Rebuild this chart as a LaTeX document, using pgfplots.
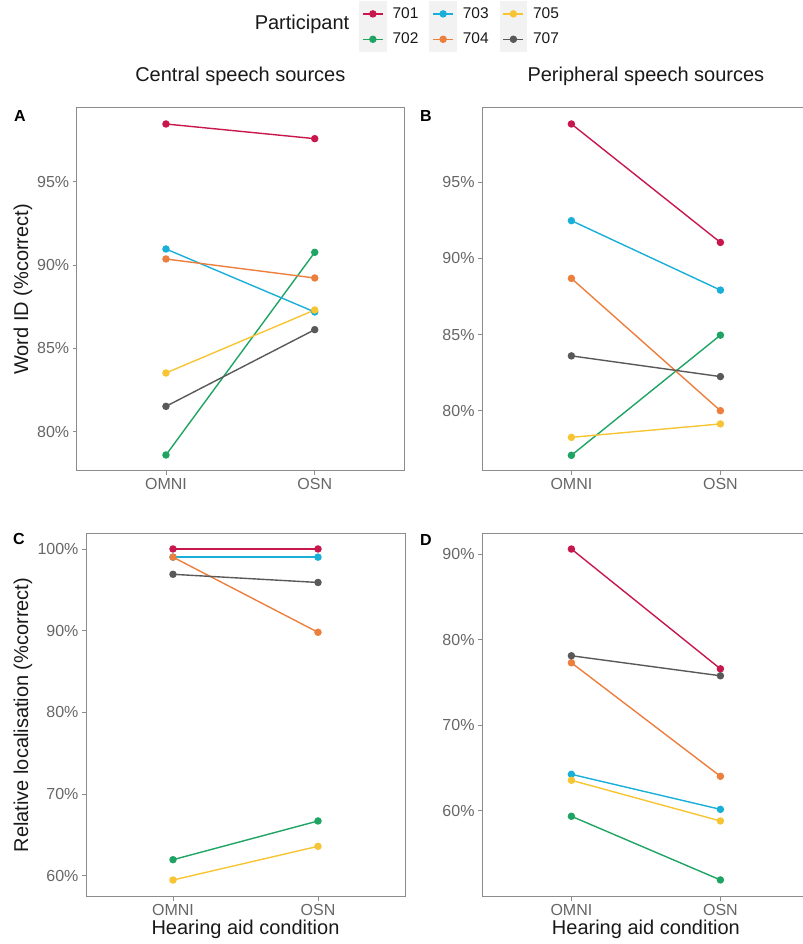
\documentclass[border=0pt]{standalone}
\usepackage{pgfplots}
\pgfplotsset{compat=1.18}
\usepackage{fontspec}
\setmainfont{Liberation Sans}
\definecolor{c701}{HTML}{C8174C}
\definecolor{c702}{HTML}{1FA463}
\definecolor{c703}{HTML}{1AAFD8}
\definecolor{c704}{HTML}{EC7F3E}
\definecolor{c705}{HTML}{F7C433}
\definecolor{c707}{HTML}{595959}
\pgfplotsset{
  panel/.style={
    scale only axis,
    axis line style={black!45, line width=1bp},
    xmin=-0.6, xmax=1.6, xtick={0,1}, xticklabels={OMNI,OSN},
    tick align=outside, major tick length=4bp,
    tick style={black!45, line width=0.8bp},
    xtick pos=bottom, ytick pos=left,
    ticklabel style={font=\fontsize{16bp}{18bp}\selectfont, text=black!60},
    every axis plot/.append style={line width=1.4bp, mark=*, mark size=3bp, mark options={solid}},
    label style={font=\fontsize{20bp}{24bp}\selectfont, text=black!90},
    title style={font=\fontsize{20bp}{24bp}\selectfont, text=black!90, anchor=center, yshift=0pt, at={(axis description cs:0.5,1.0716)}},
    xlabel style={at={(axis description cs:0.5,-0.089)}, anchor=center},
  },
}
\begin{document}
\begin{tikzpicture}
\useasboundingbox (0bp,0bp) rectangle (803bp,944bp);
% Panel A
\begin{axis}[panel, at={(76.7bp,473bp)}, anchor=south west, width=327.3bp, height=363bp,
  ymin=77.64, ymax=99.42, ytick={80,85,90,95}, yticklabels={80\%,85\%,90\%,95\%},
  ylabel={Word ID (\%correct)}, ylabel style={at={(axis description cs:-0.164,0.5)}, anchor=center},
  title={Central speech sources},
  legend columns=2, transpose legend,
  legend style={at={(axis description cs:0.8533,1.3003)}, anchor=north west, draw=none, fill=none,
    font=\fontsize{15.5bp}{18bp}\selectfont, text=black!90,
    row sep=0pt, column sep=0pt, nodes={inner sep=0pt},
    /tikz/every odd column/.append style={column sep=6bp},
    /tikz/every even column/.append style={column sep=11bp}},
  legend image code/.code={
    \fill[black!5] (-3bp,-12bp) rectangle (23bp,12bp);
    \draw[mark repeat=2,mark phase=2,#1] plot coordinates {(0bp,0bp)(10bp,0bp)(20bp,0bp)};
  },
]
\addplot[c701] coordinates {(0,98.46) (1,97.58)}; \addlegendentry{701}
\addplot[c702] coordinates {(0,78.60) (1,90.76)}; \addlegendentry{702}
\addplot[c703] coordinates {(0,90.96) (1,87.18)}; \addlegendentry{703}
\addplot[c704] coordinates {(0,90.36) (1,89.22)}; \addlegendentry{704}
\addplot[c705] coordinates {(0,83.52) (1,87.30)}; \addlegendentry{705}
\addplot[c707] coordinates {(0,81.52) (1,86.12)}; \addlegendentry{707}
\end{axis}
% Panel B
\begin{axis}[panel, at={(482bp,473bp)}, anchor=south west, width=327.8bp, height=363bp,
  ymin=76.04, ymax=99.88, ytick={80,85,90,95}, yticklabels={80\%,85\%,90\%,95\%},
  title={Peripheral speech sources}]
\addplot[c701] coordinates {(0,98.83) (1,91.05)};
\addplot[c702] coordinates {(0,77.07) (1,84.96)};
\addplot[c703] coordinates {(0,92.48) (1,87.92)};
\addplot[c704] coordinates {(0,88.69) (1,80.00)};
\addplot[c705] coordinates {(0,78.25) (1,79.13)};
\addplot[c707] coordinates {(0,83.60) (1,82.24)};
\end{axis}
% Panel C
\begin{axis}[panel, at={(86bp,47.3bp)}, anchor=south west, width=319bp, height=363.4bp,
  ymin=57.43, ymax=101.92, ytick={60,70,80,90,100}, yticklabels={60\%,70\%,80\%,90\%,100\%},
  ylabel={Relative localisation (\%correct)}, ylabel style={at={(axis description cs:-0.1975,0.5)}, anchor=center},
  xlabel={Hearing aid condition}]
\addplot[c701] coordinates {(0,100.0) (1,100.0)};
\addplot[c702] coordinates {(0,61.96) (1,66.70)};
\addplot[c703] coordinates {(0,99.0) (1,99.0)};
\addplot[c704] coordinates {(0,99.0) (1,89.80)};
\addplot[c705] coordinates {(0,59.47) (1,63.60)};
\addplot[c707] coordinates {(0,96.90) (1,95.90)};
\end{axis}
% Panel D
\begin{axis}[panel, at={(482bp,47.3bp)}, anchor=south west, width=327.8bp, height=363.4bp,
  ymin=49.94, ymax=92.46, ytick={60,70,80,90}, yticklabels={60\%,70\%,80\%,90\%},
  xlabel={Hearing aid condition}]
\addplot[c701] coordinates {(0,90.62) (1,76.60)};
\addplot[c702] coordinates {(0,59.35) (1,51.90)};
\addplot[c703] coordinates {(0,64.26) (1,60.16)};
\addplot[c704] coordinates {(0,77.31) (1,64.03)};
\addplot[c705] coordinates {(0,63.56) (1,58.80)};
\addplot[c707] coordinates {(0,78.13) (1,75.79)};
\end{axis}
% texts
\node[font=\fontsize{20bp}{24bp}\selectfont, text=black!90, anchor=base] at (302bp,914.5bp) {Participant};
\node[font=\bfseries\fontsize{16bp}{19bp}\selectfont] at (20bp,828bp) {A};
\node[font=\bfseries\fontsize{16bp}{19bp}\selectfont] at (426bp,828bp) {B};
\node[font=\bfseries\fontsize{16bp}{19bp}\selectfont] at (19bp,405bp) {C};
\node[font=\bfseries\fontsize{16bp}{19bp}\selectfont] at (426bp,403.5bp) {D};
\end{tikzpicture}
\end{document}
